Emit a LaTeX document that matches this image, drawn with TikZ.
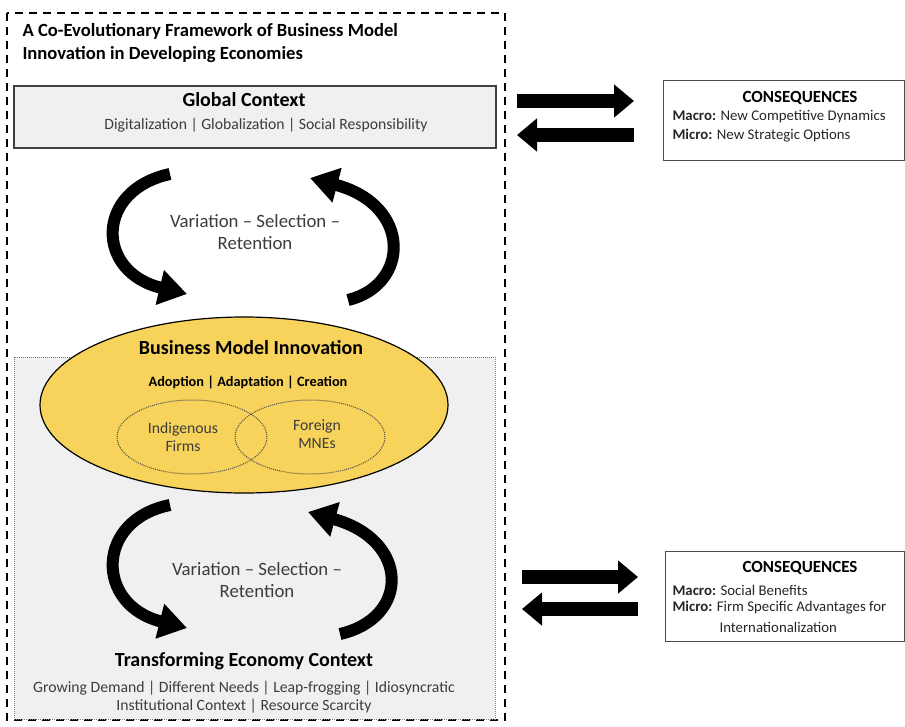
\documentclass[tikz,border=0pt]{standalone}
\usepackage{fontspec}
\setmainfont{Carlito}
\usetikzlibrary{arrows.meta,shapes.geometric}
\definecolor{bmigold}{RGB}{248,211,92}
\definecolor{panelgray}{RGB}{240,240,240}
\definecolor{txtgray}{RGB}{60,60,60}
\tikzset{
  fatarrow/.style={line width=14pt,-{Triangle[width=32pt,length=20pt]}},
  curvearrow/.style={line width=12pt,-{Triangle[width=34pt,length=28pt]}},
  body/.style={font=\fontsize{15.7}{18}\selectfont, text=txtgray},
  head/.style={font=\fontsize{20}{24}\selectfont\bfseries},
  consbox/.style={draw=black!70, line width=1pt, fill=white},
  conshead/.style={font=\fontsize{17}{20}\selectfont\bfseries},
  constext/.style={anchor=west, font=\fontsize{14.8}{18}\selectfont, text=black!85},
}
\begin{document}
\begin{tikzpicture}[x=1pt,y=-1pt]
\useasboundingbox (0,0) rectangle (905,726);
% outer dashed frame
\draw[line width=2.6pt, dash pattern=on 8pt off 6pt] (7,13) rectangle (505,720);
% title
\node[anchor=north west, align=left, font=\fontsize{18.6}{23}\selectfont\bfseries] (title) at (19,20)
  {A Co-Evolutionary Framework of Business Model\\Innovation in Developing Economies};
% lower panel
\draw[draw=gray, densely dotted, line width=1pt, fill=panelgray] (14,357) rectangle (495,719);
% global context
\draw[draw=black!75, line width=1.3pt, fill=panelgray] (14,86) rectangle (496,148);
\node[head] (gc) at (244,100) {Global Context};
\node[body] (gcsub) at (266,125) {Digitalization | Globalization | Social Responsibility};
% big ellipse
\node[ellipse, draw=black, line width=1.2pt, fill=bmigold, minimum width=408pt, minimum height=176pt, inner sep=0pt] (bmi) at (244,405) {};
\node[head] (bmititle) at (251,348) {Business Model Innovation};
\node[font=\fontsize{14.3}{17}\selectfont\bfseries] (modes) at (248,382) {Adoption | Adaptation | Creation};
\node[ellipse, draw=black!70, densely dotted, line width=1pt, minimum width=150pt, minimum height=74pt, inner sep=0pt] (indig) at (192,437) {};
\node[ellipse, draw=black!70, densely dotted, line width=1pt, minimum width=150pt, minimum height=74pt, inner sep=0pt] (mne) at (310,437) {};
\node[body, align=center, font=\fontsize{15.7}{18}\selectfont] (indigt) at (183,437) {Indigenous\\Firms};
\node[body, align=center, font=\fontsize{15.7}{18}\selectfont] (mnet) at (317,434) {Foreign\\MNEs};
% VSR texts
\node[align=center, text=txtgray, font=\fontsize{18.8}{22}\selectfont] (vsr1) at (255,232) {Variation -- Selection --\\Retention};
\node[align=center, text=txtgray, font=\fontsize{18.8}{22}\selectfont] (vsr2) at (257,580) {Variation -- Selection --\\Retention};
% curved arrows top
\coordinate (t1s) at (170,174);
\coordinate (t1e) at (187,294);
\coordinate (t2s) at (348,300);
\coordinate (t2e) at (310,178);
\draw[curvearrow] (t1s) .. controls (95,190) and (95,272) .. (t1e);
\draw[curvearrow] (t2s) .. controls (410,285) and (412,205) .. (t2e);
% curved arrows bottom
\coordinate (b1s) at (170,505);
\coordinate (b1e) at (187,628);
\coordinate (b2s) at (340,634);
\coordinate (b2e) at (308,512);
\draw[curvearrow] (b1s) .. controls (95,520) and (95,605) .. (b1e);
\draw[curvearrow] (b2s) .. controls (410,618) and (410,540) .. (b2e);
% transforming economy
\node[head] (tec) at (244,661) {Transforming Economy Context};
\node[body, align=center, font=\fontsize{15.7}{18}\selectfont] (tecsub) at (244,697) {Growing Demand | Different Needs | Leap-frogging | Idiosyncratic\\Institutional Context | Resource Scarcity};
% consequences top
\draw[consbox] (663,80) rectangle (904,160);
\node[conshead] (c1h) at (800,98) {CONSEQUENCES};
\node[constext] (c1a) at (669,117) {\textbf{Macro:} New Competitive Dynamics};
\node[constext] (c1b) at (669,136) {\textbf{Micro:} New Strategic Options};
\coordinate (a1s) at (517,101);
\coordinate (a1e) at (634,101);
\coordinate (a2s) at (634,135);
\coordinate (a2e) at (517,135);
\draw[fatarrow] (a1s) -- (a1e);
\draw[fatarrow] (a2s) -- (a2e);
% consequences bottom
\draw[consbox] (665,551) rectangle (904,641);
\node[conshead] (c2h) at (800,568) {CONSEQUENCES};
\node[constext] (c2a) at (669,590) {\textbf{Macro:} Social Benefits};
\node[constext] (c2b) at (669,608) {\textbf{Micro:} Firm Specific Advantages for};
\node[constext] (c2c) at (716,627) {Internationalization};
\coordinate (a3s) at (522,577);
\coordinate (a3e) at (638,577);
\coordinate (a4s) at (638,609);
\coordinate (a4e) at (522,609);
\draw[fatarrow] (a3s) -- (a3e);
\draw[fatarrow] (a4s) -- (a4e);
\end{tikzpicture}
\end{document}
